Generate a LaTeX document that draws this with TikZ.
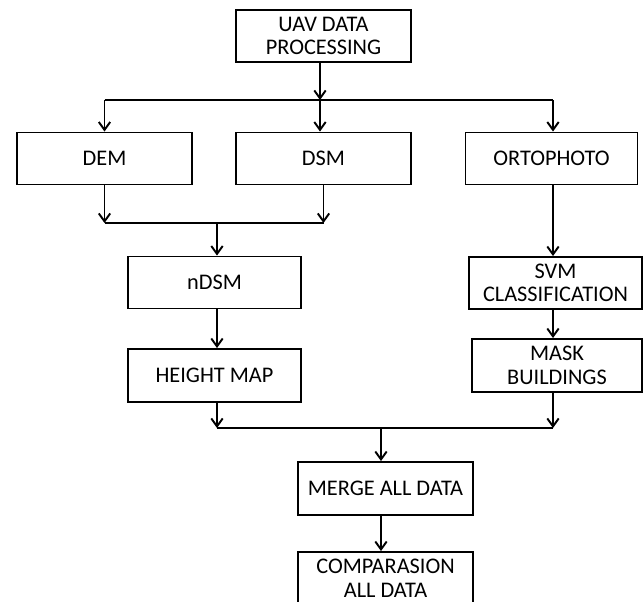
\documentclass[tikz,border=0pt]{standalone}
\usepackage{fontspec}
\setmainfont{Carlito}
\usepackage{tikz}
\usetikzlibrary{calc, arrows.meta}

\begin{document}
\begin{tikzpicture}[x=0.02cm,y=-0.02cm]
\tikzstyle{box}=[draw,line width=1.1pt,minimum width=3.5cm,minimum height=1.04cm,inner sep=1pt,align=center,font=\fontsize{12.7}{13.4}\selectfont]
\tikzstyle{arr}=[line width=1.1pt,-{Straight Barb[length=4.5pt,width=6.5pt]}]
\tikzstyle{bus}=[line width=1.1pt]
\useasboundingbox (0,0) rectangle (643,602);
\clip (0,0) rectangle (643,602);
% boxes
\node[box] (uav) at (323.5,36) {UAV DATA\\PROCESSING};
\node[box] (dem) at (104.5,158.5) {DEM};
\node[box] (dsm) at (323.5,158.5) {DSM};
\node[box,minimum width=3.44cm] (orto) at (551.5,158.5) {ORTOPHOTO};
\node[box,minimum width=3.46cm] (ndsm) at (214.5,282.5) {nDSM};
\node[box,minimum width=3.46cm,minimum height=1.06cm] (height) at (214.5,375.5) {HEIGHT MAP};
\node[box,minimum width=3.46cm] (svm) at (555.5,283) {SVM\\CLASSIFICATION};
\node[box,minimum width=3.4cm,minimum height=1.06cm] (mask) at (557,365.5) {MASK\\BUILDINGS};
\node[box,minimum height=1.06cm] (merge) at (385.5,488.5) {MERGE ALL DATA};
\node[box,minimum height=1.06cm] (comp) at (385.5,578.5) {COMPARASION\\ALL DATA};
% bus lines
\coordinate (tb) at (320,100);
\coordinate (mb) at (217,223);
\coordinate (bb) at (381,428);
\coordinate (rc) at (553,0);
\draw[arr] (uav.south -| tb) -- (tb);
\draw[bus] (dem |- tb) -- (rc |- tb);
\draw[arr] (dem |- tb) -- (dem.north);
\draw[arr] (tb) -- (tb |- dsm.north);
\draw[arr] (rc |- tb) -- (rc |- orto.north);
\draw[arr] (dem.south) -- (dem |- mb);
\draw[arr] (dsm.south) -- (dsm |- mb);
\draw[bus] (dem |- mb) -- (dsm |- mb);
\draw[arr] (mb) -- (mb |- ndsm.north);
\draw[arr] (ndsm.south -| mb) -- (mb |- height.north);
\draw[arr] (orto.south -| rc) -- (rc |- svm.north);
\draw[arr] (svm.south -| rc) -- (rc |- mask.north);
\draw[arr] (height.south -| mb) -- (mb |- bb);
\draw[arr] (mask.south -| rc) -- (rc |- bb);
\draw[bus] (mb |- bb) -- (rc |- bb);
\draw[arr] (bb) -- (bb |- merge.north);
\draw[arr] (merge.south -| bb) -- (bb |- comp.north);
\end{tikzpicture}
\end{document}
